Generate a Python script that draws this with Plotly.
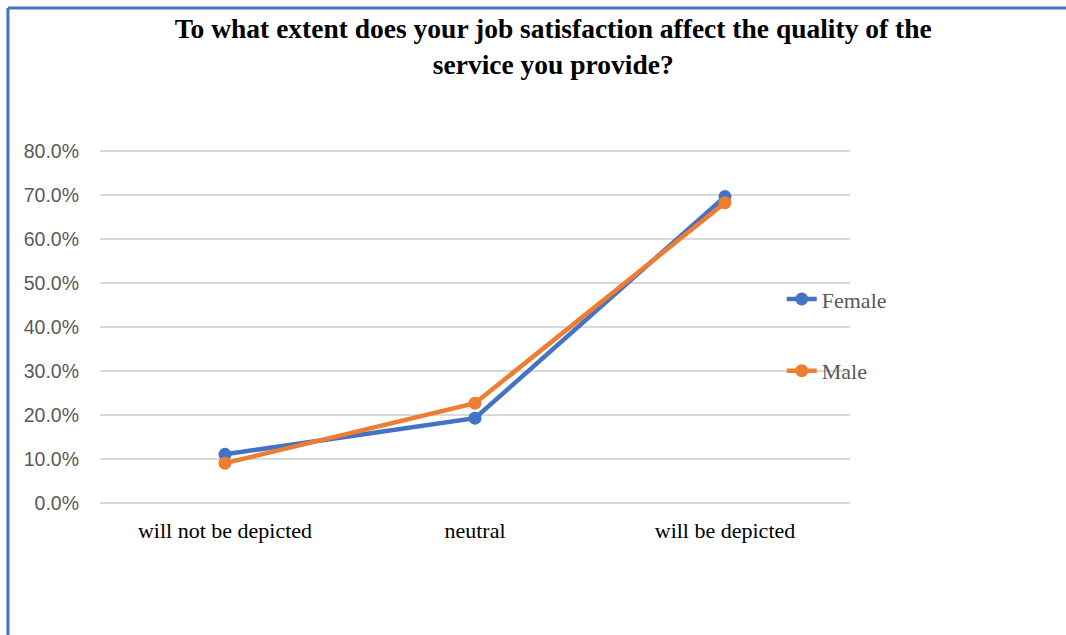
import plotly.graph_objects as go

categories = ["will not be depicted", "neutral", "will be depicted"]
female = [0.111, 0.193, 0.696]
male = [0.091, 0.227, 0.682]
y_ticks = [0, 0.1, 0.2, 0.3, 0.4, 0.5, 0.6, 0.7, 0.8]

fig = go.Figure()
fig.add_trace(go.Scatter(x=categories, y=female, name="Female", mode="lines+markers",
                         line=dict(color="#4472c4", width=4.5), marker=dict(size=13, color="#4472c4"),
                         legendgroup="f"))
fig.add_trace(go.Scatter(x=categories, y=male, name="Male", mode="lines+markers",
                         line=dict(color="#ed7d31", width=4.5), marker=dict(size=13, color="#ed7d31"),
                         legendgroup="m"))

fig.update_layout(
    width=1066, height=635,
    margin=dict(l=100, r=216, t=149, b=130),
    paper_bgcolor="white", plot_bgcolor="white",
    title=dict(text="To what extent does your job satisfaction affect the quality of the<br>service you provide?",
               x=0.519, xanchor="center", xref="container", y=0.94, yanchor="top", yref="container",
               font=dict(family="Liberation Serif", size=27.5, color="black", weight="bold")),
    xaxis=dict(type="category", range=[-0.5, 2.5], showgrid=False, showline=False, ticks="",
               tickfont=dict(family="Liberation Serif", size=22, color="black"), ticklabelstandoff=10),
    yaxis=dict(range=[-0.004, 0.804], tickvals=y_ticks, tickformat=".1%", showgrid=True, gridcolor="#d9d9d9",
               gridwidth=1.5, zeroline=False, showline=False, ticks="",
               tickfont=dict(family="Liberation Sans", size=19.5, color="#595959"), ticklabelstandoff=20),
    legend=dict(x=0.909, y=0.637, xanchor="left", yanchor="top", tracegroupgap=40,
                font=dict(family="Liberation Serif", size=22, color="#595959"), bgcolor="rgba(0,0,0,0)"),
    shapes=[
        dict(type="line", xref="paper", yref="paper", x0=-0.1227, x1=1.4, y0=1.396, y1=1.396,
             line=dict(color="#4472c4", width=3)),
        dict(type="line", xref="paper", yref="paper", x0=-0.1227, x1=-0.1227, y0=1.396, y1=-0.5,
             line=dict(color="#4472c4", width=3)),
    ],
)

fig.write_html("out.html")
